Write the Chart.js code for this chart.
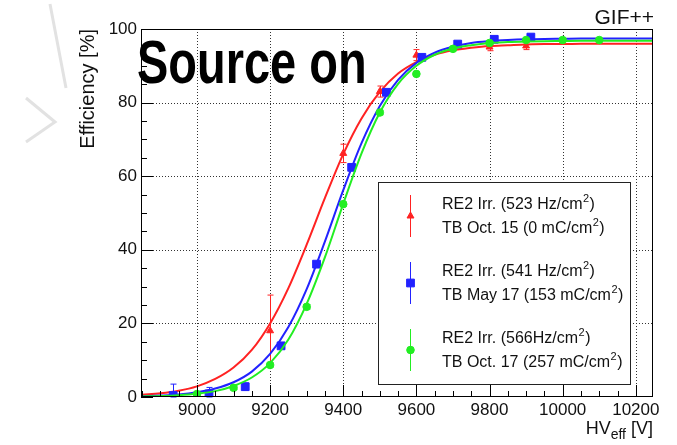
<!DOCTYPE html>
<html>
<head>
<meta charset="utf-8">
<script src="https://cdn.jsdelivr.net/npm/chart.js@4.4.0/dist/chart.umd.min.js"></script>
<style>
  html, body { margin: 0; padding: 0; background: #fff; }
  #wrap { width: 677px; height: 445px; }
</style>
</head>
<body>
<div id="wrap"><canvas id="grafico" width="677" height="445"></canvas></div>
<script>
const curveHV = [8850, 8900, 8950, 9000, 9050, 9100, 9150, 9200, 9250, 9300, 9350, 9400, 9450, 9500, 9550,
                 9600, 9650, 9700, 9750, 9800, 9850, 9900, 9950, 10000, 10050, 10100, 10150, 10200, 10250];
const redFit   = [0.6, 1.0, 1.7, 2.9, 4.9, 8.0, 12.8, 20.0, 29.6, 41.4, 54.1, 66.0, 75.7, 82.9, 87.9,
                  91.0, 93.0, 94.2, 94.9, 95.4, 95.6, 95.8, 95.9, 95.9, 96.0, 96.0, 96.0, 96.0, 96.0];
const blueFit  = [0.2, 0.4, 0.7, 1.3, 2.3, 4.0, 6.9, 11.7, 19.0, 29.3, 42.3, 56.2, 69.0, 79.1, 86.2,
                  90.8, 93.6, 95.2, 96.2, 96.7, 97.0, 97.2, 97.3, 97.35, 97.4, 97.4, 97.4, 97.4, 97.4];
const greenFit = [0.15, 0.27, 0.5, 0.9, 1.6, 3.0, 5.3, 9.2, 15.6, 25.3, 38.0, 52.5, 66.2, 77.3, 85.1,
                  90.0, 93.0, 94.7, 95.6, 96.2, 96.45, 96.6, 96.7, 96.75, 96.8, 96.8, 96.8, 96.8, 96.8];

// Medidas (HV efectivo, eficiencia, error)
const redHV  = [9200, 9400, 9500, 9600, 9800, 9900];
const redEff = [18.0, 66.2, 83.0, 92.9, 95.1, 95.4];
const redErr = [9.7, 2.5, 1.5, 1.5, 1.0, 1.0];

const blueHV  = [8935, 9033, 9132, 9230, 9327, 9423, 9518, 9615, 9713, 9813, 9913];
const blueEff = [0.4, 0.8, 2.8, 13.9, 36.1, 62.4, 82.8, 92.3, 95.9, 97.2, 97.8];
const blueErr = [3.1, 1.8, 1.0, 0.6, 0.6, 0.6, 0.5, 0.5, 0.4, 0.4, 0.4];

const greenHV  = [9000, 9100, 9200, 9300, 9400, 9500, 9600, 9700, 9800, 9900, 10000, 10100];
const greenEff = [0.8, 2.5, 8.7, 24.5, 52.4, 77.3, 87.8, 94.6, 96.2, 97.0, 97.0, 97.0];
const greenErr = [0.5, 0.5, 0.6, 0.6, 0.6, 0.6, 0.5, 0.5, 0.4, 0.4, 0.4, 0.4];

const xTicks = [9000, 9200, 9400, 9600, 9800, 10000, 10200];
const yTicks = [0, 20, 40, 60, 80, 100];

const legendLines = [
  ["RE2 Irr. (523 Hz/cm²)", "TB Oct. 15 (0 mC/cm²)"],
  ["RE2 Irr. (541 Hz/cm²)", "TB May 17 (153 mC/cm²)"],
  ["RE2 Irr. (566Hz/cm²)", "TB Oct. 17 (257 mC/cm²)"]
];

const ROJO = "#ff2222", AZUL = "#2222ff", VERDE = "#22ee22";
const FUENTE = "'Liberation Sans', Arial, Helvetica, sans-serif";

const pts = (xs, ys) => xs.map((x, i) => ({ x: x, y: ys[i] }));

// texto con el "²" dibujado como superindice
function textoSup(ctx, txt, x, y) {
  const partes = txt.split("²");
  let cx = x;
  partes.forEach((p, i) => {
    ctx.font = "16px " + FUENTE;
    ctx.fillText(p, cx, y);
    cx += ctx.measureText(p).width;
    if (i < partes.length - 1) {
      ctx.font = "11px " + FUENTE;
      ctx.fillText("2", cx + 0.5, y - 6);
      cx += ctx.measureText("2").width + 1;
    }
  });
}

// Dibujos propios: rejilla punteada, barras de error, ticks hacia dentro, leyenda y textos
const decorado = {
  id: "decorado",
  beforeDraw(chart) {
    const ctx = chart.ctx;
    ctx.save();
    ctx.fillStyle = "#fff";
    ctx.fillRect(0, 0, chart.width, chart.height);
    // marca gris de la diapositiva
    ctx.strokeStyle = "#e2e2e2";
    ctx.lineWidth = 3;
    ctx.beginPath();
    ctx.moveTo(50, 4); ctx.lineTo(66, 88);
    ctx.moveTo(26, 98); ctx.lineTo(55, 122); ctx.lineTo(26, 142);
    ctx.stroke();
    ctx.restore();
  },
  beforeDatasetsDraw(chart) {
    const { ctx, chartArea: a, scales: { x, y } } = chart;
    ctx.save();
    ctx.strokeStyle = "#333";
    ctx.lineWidth = 1;
    ctx.setLineDash([1, 2]);
    ctx.beginPath();
    xTicks.forEach(v => {
      const px = Math.round(x.getPixelForValue(v)) + 0.5;
      ctx.moveTo(px, a.top); ctx.lineTo(px, a.bottom);
    });
    yTicks.slice(1, -1).forEach(v => {
      const py = Math.round(y.getPixelForValue(v)) + 0.5;
      ctx.moveTo(a.left, py); ctx.lineTo(a.right, py);
    });
    ctx.stroke();
    ctx.restore();
  },
  beforeDatasetDraw(chart, args) {
    const ds = chart.data.datasets[args.index];
    if (!ds.err) return;
    const { ctx, scales: { x, y } } = chart;
    ctx.save();
    ctx.strokeStyle = ds.borderColor;
    ctx.lineWidth = 1;
    ctx.beginPath();
    ds.data.forEach((p, i) => {
      const px = Math.round(x.getPixelForValue(p.x)) + 0.5;
      const y1 = y.getPixelForValue(Math.max(p.y - ds.err[i], 0));
      const y2 = y.getPixelForValue(p.y + ds.err[i]);
      ctx.moveTo(px, y1); ctx.lineTo(px, y2);
      ctx.moveTo(px - 3, y2); ctx.lineTo(px + 3, y2);
      ctx.moveTo(px - 3, y1); ctx.lineTo(px + 3, y1);
    });
    ctx.stroke();
    ctx.restore();
  },
  afterDraw(chart) {
    const { ctx, chartArea: a, scales: { x, y } } = chart;
    ctx.save();

    // marco
    ctx.strokeStyle = "#000";
    ctx.lineWidth = 1;
    ctx.strokeRect(Math.round(a.left) + 0.5, Math.round(a.top) + 0.5,
                   Math.round(a.right - a.left) - 1, Math.round(a.bottom - a.top) - 1);

    // ticks hacia dentro
    ctx.beginPath();
    for (let v = 8850; v <= x.max; v += 50) {
      const px = Math.round(x.getPixelForValue(v)) + 0.5;
      const largo = xTicks.includes(v) ? 12 : 6;
      ctx.moveTo(px, a.bottom); ctx.lineTo(px, a.bottom - largo);
    }
    for (let v = 0; v <= 100; v += 5) {
      const py = Math.round(y.getPixelForValue(v)) + 0.5;
      const largo = yTicks.includes(v) ? 12 : 6;
      ctx.moveTo(a.left, py); ctx.lineTo(a.left + largo, py);
    }
    ctx.stroke();

    // titulos de ejes
    ctx.fillStyle = "#111";
    ctx.font = "20px " + FUENTE;
    ctx.save();
    ctx.translate(88, a.top);
    ctx.rotate(-Math.PI / 2);
    ctx.textAlign = "right";
    ctx.textBaseline = "middle";
    ctx.fillText("Efficiency [%]", 0, 0);
    ctx.restore();

    ctx.textBaseline = "alphabetic";
    ctx.textAlign = "left";
    ctx.font = "18px " + FUENTE;
    const wHV = ctx.measureText("HV").width;
    const wV = ctx.measureText(" [V]").width;
    ctx.font = "14px " + FUENTE;
    const wSub = ctx.measureText("eff").width;
    let tx = a.right - (wHV + wSub + wV);
    ctx.font = "18px " + FUENTE;
    ctx.fillText("HV", tx, 434);
    ctx.font = "14px " + FUENTE;
    ctx.fillText("eff", tx + wHV, 439);
    ctx.font = "18px " + FUENTE;
    ctx.fillText(" [V]", tx + wHV + wSub, 434);

    // GIF++
    ctx.font = "21px " + FUENTE;
    ctx.textAlign = "right";
    ctx.fillText("GIF++", 654, 24);

    // Source on
    ctx.save();
    ctx.translate(137, 83);
    ctx.scale(0.77, 1);
    ctx.font = "bold 61px " + FUENTE;
    ctx.textAlign = "left";
    ctx.fillStyle = "#000";
    ctx.fillText("Source on", 0, 0);
    ctx.restore();

    // leyenda
    const lx = 378.5, ly = 182.5, lw = 252, lh = 202;
    ctx.fillStyle = "#fff";
    ctx.fillRect(lx, ly, lw, lh);
    ctx.strokeStyle = "#222";
    ctx.strokeRect(lx, ly, lw, lh);
    const colores = [ROJO, AZUL, VERDE];
    const estilos = ["triangle", "rect", "circle"];
    const radios = [4, 5.5, 3.8];
    const centros = [216, 283, 350];
    ctx.textAlign = "left";
    ctx.textBaseline = "middle";
    legendLines.forEach((lineas, i) => {
      const cy = centros[i];
      ctx.strokeStyle = colores[i];
      ctx.fillStyle = colores[i];
      ctx.lineWidth = 1;
      ctx.beginPath();
      ctx.moveTo(410.5, cy - 21); ctx.lineTo(410.5, cy + 21);
      ctx.stroke();
      Chart.helpers.drawPoint(ctx, { pointStyle: estilos[i], radius: radios[i], rotation: 0, borderWidth: 1 }, 410.5, cy);
      ctx.fillStyle = "#111";
      textoSup(ctx, lineas[0], 442, cy - 11);
      textoSup(ctx, lineas[1], 442, cy + 13);
    });

    ctx.restore();
  }
};

const tickFont = { family: FUENTE, size: 17 };

new Chart(document.getElementById("grafico"), {
  data: {
    datasets: [
      { type: "scatter", data: pts(greenHV, greenEff), err: greenErr, pointStyle: "circle", pointRadius: 3.8,
        backgroundColor: VERDE, borderColor: VERDE, order: 0 },
      { type: "line", data: pts(curveHV, greenFit), borderColor: VERDE, borderWidth: 2, pointRadius: 0,
        cubicInterpolationMode: "monotone", fill: false, order: 1 },
      { type: "scatter", data: pts(blueHV, blueEff), err: blueErr, pointStyle: "rect", pointRadius: 5.5,
        backgroundColor: AZUL, borderColor: AZUL, order: 2 },
      { type: "line", data: pts(curveHV, blueFit), borderColor: AZUL, borderWidth: 2, pointRadius: 0,
        cubicInterpolationMode: "monotone", fill: false, order: 3 },
      { type: "scatter", data: pts(redHV, redEff), err: redErr, pointStyle: "triangle", pointRadius: 4,
        backgroundColor: ROJO, borderColor: ROJO, order: 4 },
      { type: "line", data: pts(curveHV, redFit), borderColor: ROJO, borderWidth: 2, pointRadius: 0,
        cubicInterpolationMode: "monotone", fill: false, order: 5 }
    ]
  },
  options: {
    responsive: false,
    animation: false,
    devicePixelRatio: 1,
    layout: { padding: { top: 29, right: 24, left: 0, bottom: 0 } },
    plugins: { legend: { display: false }, tooltip: { enabled: false } },
    scales: {
      x: {
        type: "linear", min: 8847, max: 10247,
        grid: { display: false, drawTicks: false },
        border: { display: false },
        ticks: { font: tickFont, color: "#111", padding: 3, maxRotation: 0, autoSkip: false,
                 callback: v => String(v) },
        afterBuildTicks: s => { s.ticks = xTicks.map(v => ({ value: v })); },
        afterFit: s => { s.height = 48; }
      },
      y: {
        type: "linear", min: 0, max: 100,
        grid: { display: false, drawTicks: false },
        border: { display: false },
        ticks: { font: tickFont, color: "#111", padding: 4, callback: v => String(v) },
        afterBuildTicks: s => { s.ticks = yTicks.map(v => ({ value: v })); },
        afterFit: s => { s.width = 141; }
      }
    }
  },
  plugins: [decorado]
});
</script>
</body>
</html>
